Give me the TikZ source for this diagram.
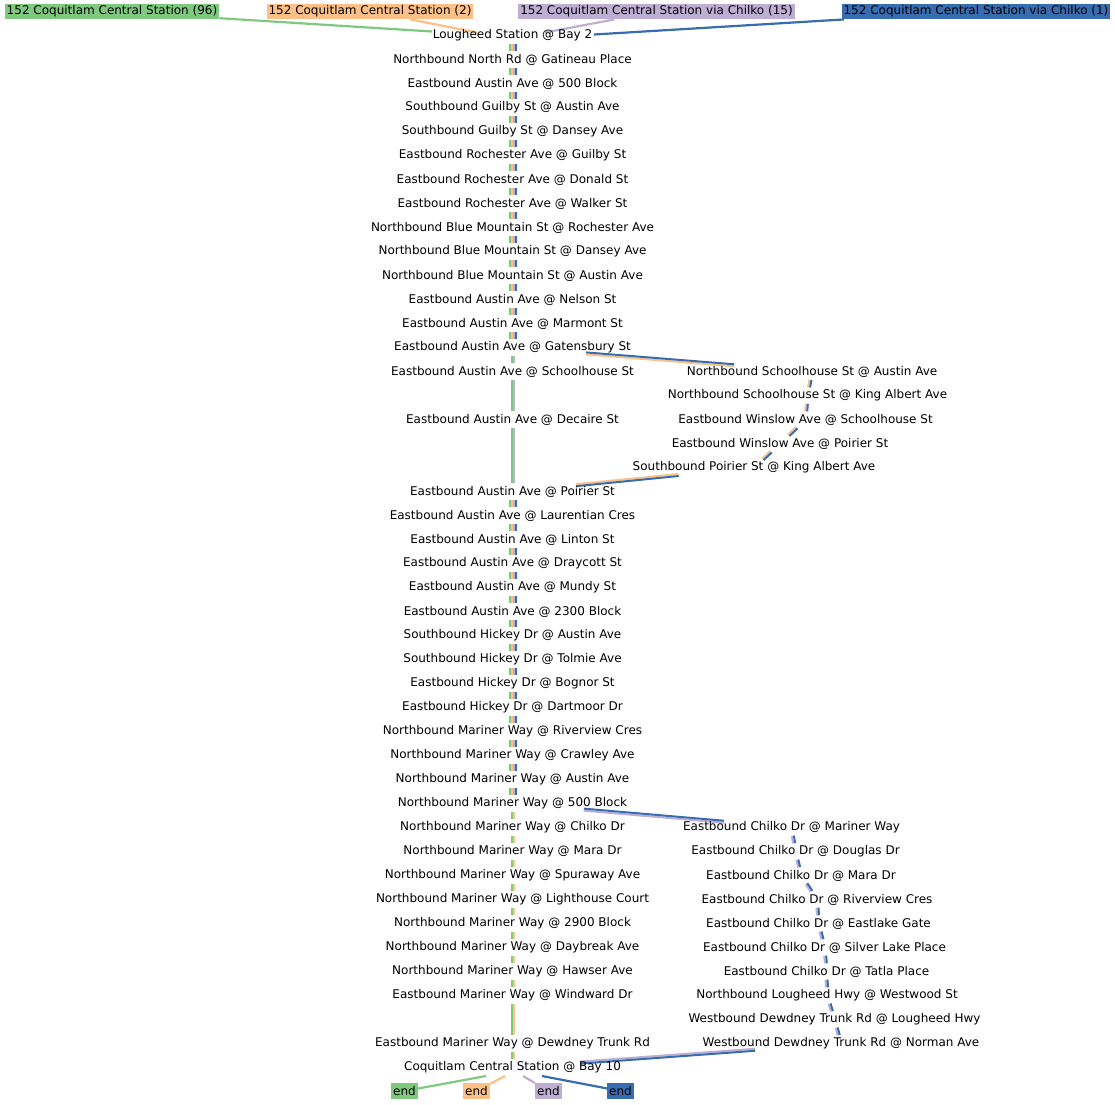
\documentclass[tikz,border=0pt]{standalone}
\usepackage{fontspec}
\setmainfont{DejaVu Sans}
\usetikzlibrary{calc,backgrounds}
\definecolor{routegreen}{HTML}{7FC97F}
\definecolor{routeorange}{HTML}{FDC086}
\definecolor{routepurple}{HTML}{BEAED4}
\definecolor{routeblue}{HTML}{386CB0}
\tikzset{
  stopbox/.style={
    rectangle,
    minimum height=16pt,
    inner sep=0pt,
  },
  routelabel/.style={
    rectangle,
    fill=#1,
    inner xsep=2pt,
    inner ysep=0pt,
    minimum height=15.5pt,
  },
  strand/.style={
    line width=2pt,
  },
  single/.style={
    line width=2.2pt,
  },
}
% parallel coloured strands between two stops
\newcommand\bundle[3]{%
  \path (#1) -- (#2) coordinate[pos=0] (bA) coordinate[pos=1] (bB);
  \foreach \col/\off in {#3}
    \draw[strand,draw=\col] ($(bA)!\off pt!90:(bB)$) -- ($(bB)!\off pt!-90:(bA)$);
}
\newcommand\stoptxt[1]{\makebox[0.62\width]{#1}}

\begin{document}
\begin{tikzpicture}[x=1pt,y=-1pt,font=\fontsize{12}{14}\selectfont]
\useasboundingbox (0,0) rectangle (1115,1104);
\begin{scope}[yshift=-1.5pt]

% route labels
\node[routelabel=routegreen] (lblA) at (112,10) {152 Coquitlam Central Station (96)};
\node[routelabel=routeorange] (lblB) at (370,10) {152 Coquitlam Central Station (2)};
\node[routelabel=routepurple] (lblC) at (656.5,10) {152 Coquitlam Central Station via Chilko (15)};
\node[routelabel=routeblue] (lblD) at (976,10) {152 Coquitlam Central Station via Chilko (1)};

% main line
\foreach \y/\stoptext [count=\i] in {
  34/Lougheed Station @ Bay 2,
  58/Northbound North Rd @ Gatineau Place,
  82/Eastbound Austin Ave @ 500 Block,
  106/Southbound Guilby St @ Austin Ave,
  130/Southbound Guilby St @ Dansey Ave,
  154/Eastbound Rochester Ave @ Guilby St,
  178/Eastbound Rochester Ave @ Donald St,
  202/Eastbound Rochester Ave @ Walker St,
  226/Northbound Blue Mountain St @ Rochester Ave,
  250/Northbound Blue Mountain St @ Dansey Ave,
  274/Northbound Blue Mountain St @ Austin Ave,
  298/Eastbound Austin Ave @ Nelson St,
  322/Eastbound Austin Ave @ Marmont St,
  346/Eastbound Austin Ave @ Gatensbury St,
  370/Eastbound Austin Ave @ Schoolhouse St,
  418/Eastbound Austin Ave @ Decaire St,
  490/Eastbound Austin Ave @ Poirier St,
  514/Eastbound Austin Ave @ Laurentian Cres,
  538/Eastbound Austin Ave @ Linton St,
  562/Eastbound Austin Ave @ Draycott St,
  586/Eastbound Austin Ave @ Mundy St,
  610/Eastbound Austin Ave @ 2300 Block,
  634/Southbound Hickey Dr @ Austin Ave,
  658/Southbound Hickey Dr @ Tolmie Ave,
  682/Eastbound Hickey Dr @ Bognor St,
  706/Eastbound Hickey Dr @ Dartmoor Dr,
  730/Northbound Mariner Way @ Riverview Cres,
  754/Northbound Mariner Way @ Crawley Ave,
  778/Northbound Mariner Way @ Austin Ave,
  802/Northbound Mariner Way @ 500 Block,
  826/Northbound Mariner Way @ Chilko Dr,
  850/Northbound Mariner Way @ Mara Dr,
  874/Northbound Mariner Way @ Spuraway Ave,
  898/Northbound Mariner Way @ Lighthouse Court,
  922/Northbound Mariner Way @ 2900 Block,
  946/Northbound Mariner Way @ Daybreak Ave,
  970/Northbound Mariner Way @ Hawser Ave,
  994/Eastbound Mariner Way @ Windward Dr,
  1042/Eastbound Mariner Way @ Dewdney Trunk Rd,
  1066/Coquitlam Central Station @ Bay 10}
  \node[stopbox] (m\i) at (512.5,\y) {\stoptxt{\stoptext}};

% Schoolhouse detour
\foreach \x/\y/\stoptext [count=\i] in {
  812/370/Northbound Schoolhouse St @ Austin Ave,
  807.5/394/Northbound Schoolhouse St @ King Albert Ave,
  805.5/418/Eastbound Winslow Ave @ Schoolhouse St,
  780/442/Eastbound Winslow Ave @ Poirier St,
  754/466/Southbound Poirier St @ King Albert Ave}
  \node[stopbox] (s\i) at (\x,\y) {\stoptxt{\stoptext}};

% Chilko branch
\foreach \x/\y/\stoptext [count=\i] in {
  791.5/826/Eastbound Chilko Dr @ Mariner Way,
  795.5/850/Eastbound Chilko Dr @ Douglas Dr,
  801/874/Eastbound Chilko Dr @ Mara Dr,
  817/898/Eastbound Chilko Dr @ Riverview Cres,
  818.5/922/Eastbound Chilko Dr @ Eastlake Gate,
  824.5/946/Eastbound Chilko Dr @ Silver Lake Place,
  826.5/970/Eastbound Chilko Dr @ Tatla Place,
  827/994/Northbound Lougheed Hwy @ Westwood St,
  834.5/1018/Westbound Dewdney Trunk Rd @ Lougheed Hwy,
  841/1042/Westbound Dewdney Trunk Rd @ Norman Ave}
  \node[stopbox] (c\i) at (\x,\y) {\stoptxt{\stoptext}};

% ends
\node[routelabel=routegreen] (endA) at (404.5,1089.5) {end};
\node[routelabel=routeorange] (endB) at (476.5,1089.5) {end};
\node[routelabel=routepurple] (endC) at (548.5,1089.5) {end};
\node[routelabel=routeblue] (endD) at (620.5,1089.5) {end};

\coordinate (inA) at ($(m1)+(-80.5,-4)$);
\coordinate (inB) at ($(m1)+(-35.5,-3)$);
\coordinate (inC) at ($(m1)+(32.5,-3)$);
\coordinate (inD) at ($(m1)+(81.5,-1)$);
\coordinate (outA) at ($(m40)+(-26.5,8.5)$);
\coordinate (outB) at ($(m40)+(-7.5,8.5)$);
\coordinate (outC) at ($(m40)+(10.5,8.5)$);
\coordinate (outD) at ($(m40)+(29.5,8.5)$);

\begin{scope}[on background layer]
\draw[single,routegreen] (lblA) -- (inA);
\draw[single,routeorange] (lblB) -- (inB);
\draw[single,routepurple] (lblC) -- (inC);
\draw[single,routeblue] (lblD) -- (inD);

\foreach \i in {1,...,13} {
  \pgfmathtruncatemacro\j{\i+1}
  \bundle{m\i}{m\j}{routegreen/-3,routeorange/-1,routepurple/1,routeblue/3}
}
\bundle{m14}{m15}{routegreen/-1,routepurple/1}
\bundle{m15}{m16}{routegreen/-1,routepurple/1}
\bundle{m16}{m17}{routegreen/-1,routepurple/1}
\foreach \i in {17,...,29} {
  \pgfmathtruncatemacro\j{\i+1}
  \bundle{m\i}{m\j}{routegreen/-3,routeorange/-1,routepurple/1,routeblue/3}
}
\foreach \i in {30,...,39} {
  \pgfmathtruncatemacro\j{\i+1}
  \bundle{m\i}{m\j}{routegreen/-1,routeorange/1}
}

\bundle{m14}{s1}{routeorange/-1,routeblue/1}
\foreach \i in {1,...,4} {
  \pgfmathtruncatemacro\j{\i+1}
  \bundle{s\i}{s\j}{routeorange/-1,routeblue/1}
}
\bundle{s5}{m17}{routeorange/-1,routeblue/1}

\bundle{m30}{c1}{routepurple/-1,routeblue/1}
\foreach \i in {1,...,9} {
  \pgfmathtruncatemacro\j{\i+1}
  \bundle{c\i}{c\j}{routepurple/-1,routeblue/1}
}
\bundle{c10}{m40}{routepurple/-1,routeblue/1}

\draw[single,routegreen] (outA) -- (endA);
\draw[single,routeorange] (outB) -- (endB);
\draw[single,routepurple] (outC) -- (endC);
\draw[single,routeblue] (outD) -- (endD);
\end{scope}
\end{scope}
\end{tikzpicture}
\end{document}
